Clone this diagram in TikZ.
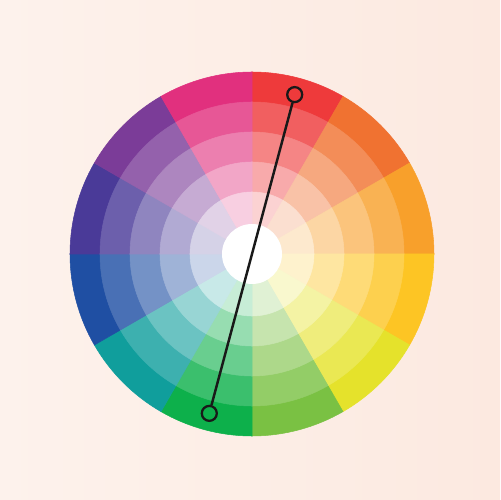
\documentclass[tikz,border=0pt]{standalone}
\definecolor{bgleft}{HTML}{FDF2EC}
\definecolor{bgright}{HTML}{FCE9E0}
\definecolor{wheelred}{HTML}{EE3A3B}
\definecolor{wheelvermilion}{HTML}{F07231}
\definecolor{wheelorange}{HTML}{F8A02B}
\definecolor{wheelamber}{HTML}{FDC524}
\definecolor{wheellime}{HTML}{E5E22B}
\definecolor{wheelleaf}{HTML}{7AC143}
\definecolor{wheelgreen}{HTML}{0DB04B}
\definecolor{wheelteal}{HTML}{109E9C}
\definecolor{wheelblue}{HTML}{1F4FA3}
\definecolor{wheelindigo}{HTML}{4A3A98}
\definecolor{wheelviolet}{HTML}{7B3C98}
\definecolor{wheelmagenta}{HTML}{E1307E}
\tikzset{
 marker/.style={circle, draw=black!90, line width=1.3pt, minimum size=0.3cm, inner sep=0pt},
 pairline/.style={black!90, line width=1.4pt}
}
\begin{document}
\begin{tikzpicture}[x=0.02cm,y=0.02cm]
 \shade[left color=bgleft, right color=bgright] (0,0) rectangle (500,500);
 \begin{scope}[shift={(252,246)}]
 \foreach \r/\t in {182/100,152/81,122/62,92/43,62/23}{
  \foreach \hue [count=\i] in
   {wheelred,wheelvermilion,wheelorange,wheelamber,wheellime,wheelleaf,
    wheelgreen,wheelteal,wheelblue,wheelindigo,wheelviolet,wheelmagenta}{
   \pgfmathsetmacro\a{120-30*\i}
   \fill[\hue!\t!white, draw=\hue!\t!white, line width=0.3pt]
    (0,0) -- (\a:\r) arc (\a:\a-30:\r) -- cycle;
  }
 }
 \fill[white] (0,0) circle (30);
 \node[marker] (redend) at (75:165) {};
 \node[marker] (greenend) at (255:165) {};
 \draw[pairline] (redend) -- (greenend);
 \end{scope}
\end{tikzpicture}
\end{document}
